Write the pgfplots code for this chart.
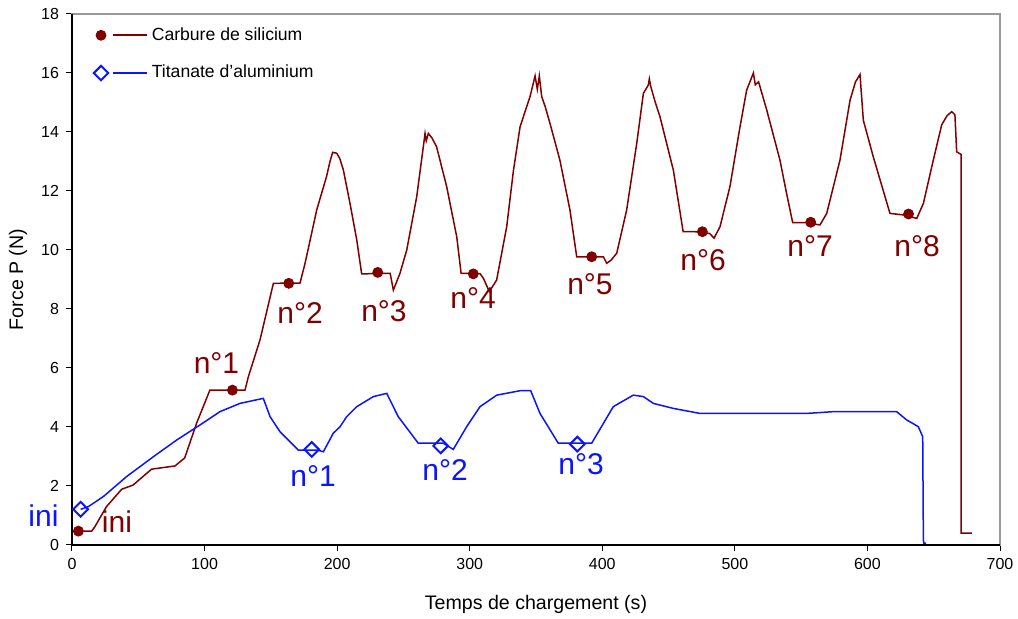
\documentclass[border=0pt]{standalone}
\usepackage{pgfplots}
\pgfplotsset{compat=1.18}
\usepackage{fontspec}
\setmainfont{Liberation Sans}
\definecolor{sic}{RGB}{128,0,0}
\definecolor{tia}{RGB}{10,20,255}
\pgfplotsset{
 sic legend/.style={legend image code/.code={%
  \draw[sic, line width=0.8pt] (6pt,0pt) -- (23pt,0pt);
  \fill[sic] (0pt,0pt) circle (2.5pt);}},
 tia legend/.style={legend image code/.code={%
  \draw[tia, line width=0.8pt] (6pt,0pt) -- (23pt,0pt);
  \draw[tia, fill=white, line width=1pt] (0pt,3.6pt) -- (3.6pt,0pt) -- (0pt,-3.6pt) -- (-3.6pt,0pt) -- cycle;}}
}
\begin{document}
\begin{tikzpicture}
\path[use as bounding box] (-36pt,-37pt) rectangle (473pt,272.5pt);
\begin{axis}[
  scale only axis, width=464pt, height=265.5pt,
  xmin=0, xmax=700, ymin=0, ymax=18,
  xtick={0,100,...,700}, ytick={0,2,...,18},
  tick align=outside, tick pos=left, major tick length=3pt,
  tick style={black, line width=0.5pt},
  axis line style={gray!80, line width=0.7pt},
  /pgf/number format/assume math mode=true,
  ticklabel style={font=\fontsize{8}{10}\selectfont},
  label style={font=\fontsize{9.8}{11}\selectfont},
  xlabel={Temps de chargement (s)},
  ylabel={Force P (N)},
  xlabel style={at={(axis description cs:0.5,0)}, anchor=center, yshift=-29.5pt},
  ylabel style={at={(axis description cs:-0.058,0.5)}, anchor=center},
  clip=false,
  legend style={draw=none, fill=none, at={(rel axis cs:0.028,0.962)}, anchor=west,
    font=\fontsize{8.8}{11}\selectfont, row sep=7pt, inner sep=0pt, anchor=north west,
    at={(rel axis cs:0.022,0.983)},
    /tikz/every even column/.append style={column sep=0pt}},
  legend cell align=left,
]
\draw[black, line width=0.8pt] (rel axis cs:0,1) -- (rel axis cs:0,0) -- (rel axis cs:1,0);

\addlegendimage{sic legend}
\addlegendentry{Carbure de silicium}
\addlegendimage{tia legend}
\addlegendentry{Titanate d'aluminium}

\addplot[sic, line width=0.75pt, mark=none, forget plot] coordinates {
(4.8,0.47) (14.8,0.47) (17,0.6) (26,1.3) (37.5,1.89) (46,2.03) (60,2.57) (77.7,2.68) (85,2.95) (94,4.13) (104,5.25) (130.5,5.25) (133,5.7) (141.8,6.95) (151.9,8.87) (172,8.88) (175.8,9.55) (178,10) (184.6,11.36) (192,12.49) (194.6,13.0) (196.6,13.31) (199.7,13.28) (202,13.1) (204.7,12.71) (209.7,11.58) (214.8,10.34) (218.5,9.19) (240,9.21) (242.4,8.64) (247.4,9.21) (252.5,10.0) (260,11.8) (265,13.5) (266.3,13.95) (267.2,13.7) (268.8,13.95) (271.5,13.8) (275,13.5) (282.6,12.15) (290.2,10.45) (293.5,9.21) (307.8,9.2) (310.3,9.04) (314.8,8.59) (320.3,8.98) (327.9,10.79) (333,12.7) (338,14.18) (345.5,15.2) (349.3,15.9) (351,15.45) (352.5,15.9) (354.3,15.2) (357,14.85) (360.5,14.3) (368,13.05) (375.6,11.36) (380.7,9.77) (400.8,9.77) (403.3,9.55) (406.5,9.65) (410.9,9.89) (418.4,11.36) (426,13.62) (431,15.31) (434.7,15.59) (435.5,15.8) (436.5,15.55) (440,15.0) (443.5,14.52) (453.6,12.71) (461,10.62) (470,10.62) (481,10.56) (484.3,10.4) (488.8,10.79) (496.3,12.15) (503.9,14.18) (508.9,15.42) (514,16.0) (515.4,15.6) (517.9,15.7) (524,14.75) (534,13.05) (539,11.92) (543.6,10.93) (553,10.93) (564.2,10.85) (569.3,11.24) (579.3,13.05) (586.9,15.08) (591,15.7) (594.4,15.95) (596.9,14.4) (604.4,13.16) (617,11.24) (627,11.19) (637.2,11.07) (642.2,11.58) (649.7,13.05) (656,14.24) (660,14.55) (663.6,14.69) (666,14.58) (667.3,13.33) (670.6,13.24) (670.6,0.4) (678.7,0.4)
};
\addplot[tia, line width=0.75pt, mark=none, forget plot] coordinates {
(6.5,1.21) (12.3,1.3) (23.6,1.64) (41.2,2.32) (61.3,2.99) (79,3.56) (96.6,4.07) (111.6,4.52) (126.7,4.8) (144.3,4.97) (149.4,4.35) (156.9,3.84) (170.7,3.22) (185,3.22) (189.6,3.16) (197.1,3.79) (202.2,4.01) (207.2,4.35) (214.8,4.69) (227.3,5.03) (237.4,5.14) (246.1,4.35) (261.2,3.45) (280,3.45) (287.6,3.24) (297.7,4.01) (307.8,4.69) (320.4,5.08) (338,5.23) (346,5.23) (353,4.46) (366.8,3.45) (392,3.45) (400.8,4.12) (408.3,4.69) (423.4,5.08) (431,5.03) (438.5,4.8) (453.6,4.63) (473.7,4.46) (554.2,4.46) (574.3,4.52) (622,4.52) (629.6,4.24) (638.4,4.01) (641.7,3.67) (642.2,0.17) (642.5,0.06) (644.2,0.06)
};
\addplot[sic, only marks, mark=*, mark size=2.5pt, forget plot] coordinates {
(4.8,0.47) (121,5.25) (163.5,8.87) (230.6,9.24) (302.7,9.19) (392,9.77) (475.5,10.62) (557.2,10.94) (631,11.22)
};
\addplot[tia, only marks, mark=square, mark size=2.6pt, mark options={rotate=45, fill=white, line width=1pt}, forget plot] coordinates {
(6.5,1.21) (180.8,3.24) (278.1,3.36) (381.2,3.42)
};

\begin{scope}[every node/.style={font=\fontsize{15}{17}\selectfont, inner sep=0pt}]
\node[text=sic] at (axis cs:33.9,0.78) {ini};
\node[text=sic] at (axis cs:109,6.17) {n°1};
\node[text=sic] at (axis cs:172,7.86) {n°2};
\node[text=sic] at (axis cs:235.3,7.93) {n°3};
\node[text=sic] at (axis cs:302.5,8.37) {n°4};
\node[text=sic] at (axis cs:390.7,8.85) {n°5};
\node[text=sic] at (axis cs:476,9.66) {n°6};
\node[text=sic] at (axis cs:556.7,10.14) {n°7};
\node[text=sic] at (axis cs:637.4,10.14) {n°8};
\node[text=tia] at (axis cs:-21.5,0.98) {ini};
\node[text=tia] at (axis cs:181.8,2.34) {n°1};
\node[text=tia] at (axis cs:281.4,2.54) {n°2};
\node[text=tia] at (axis cs:384,2.75) {n°3};
\end{scope}
\end{axis}
\end{tikzpicture}
\end{document}
